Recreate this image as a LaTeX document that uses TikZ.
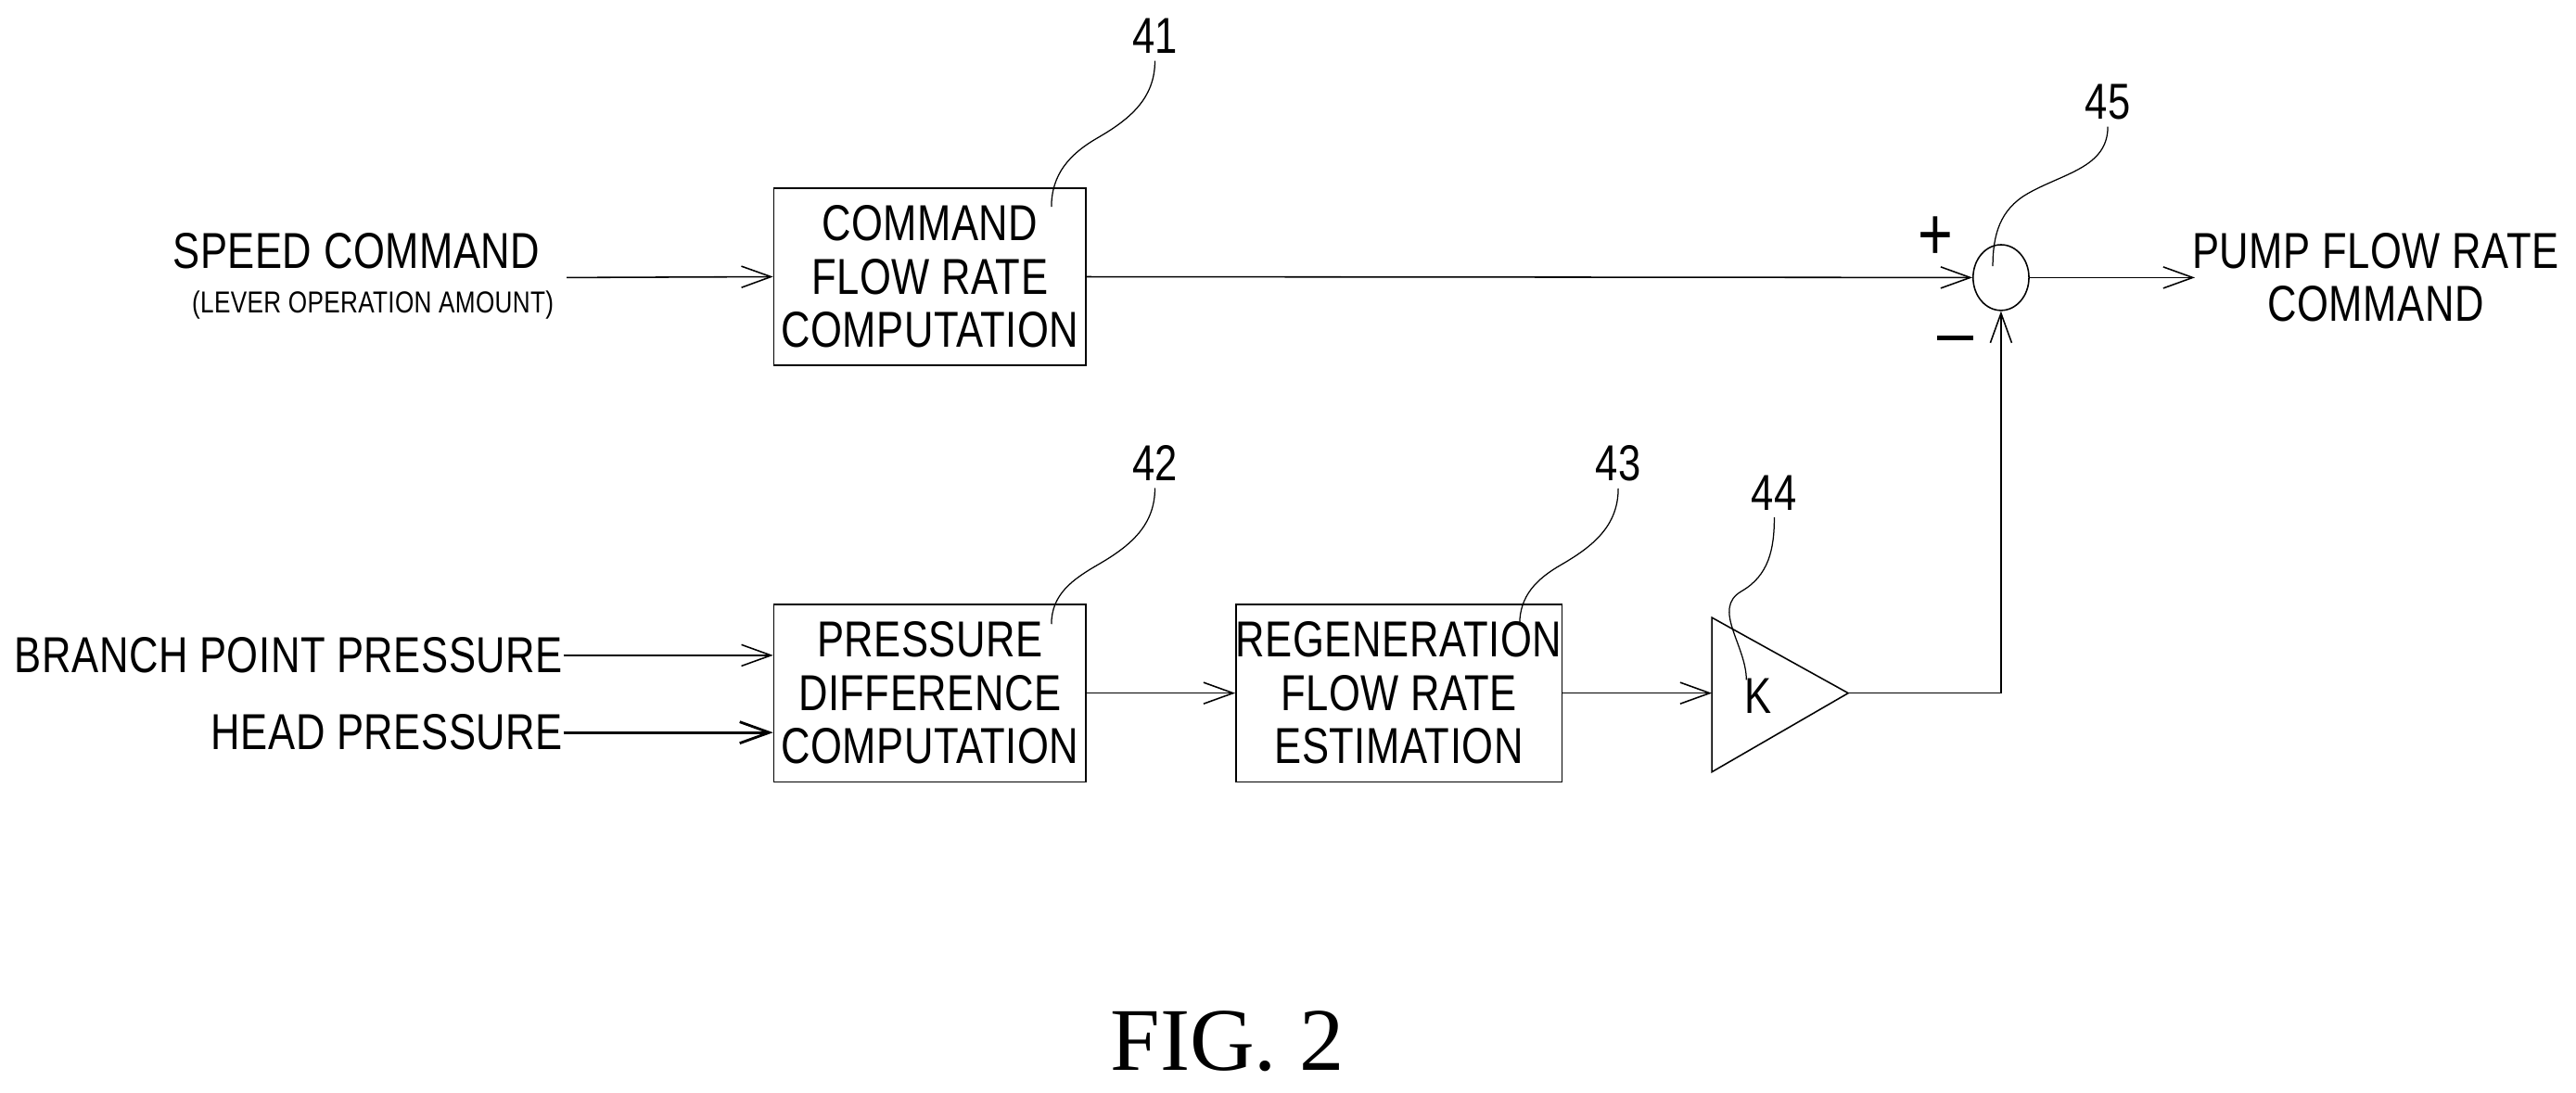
\documentclass[tikz,border=0pt]{standalone}
\usepackage{fontspec}
\setmainfont{Liberation Sans}[FakeStretch=0.8, LetterSpace=1]
\newfontfamily\figfont{Liberation Serif}
\usetikzlibrary{arrows.meta, shapes.geometric}
\tikzset{
    blk/.style={draw, minimum width=3.8cm, minimum height=2.16cm, align=center,
        font=\fontsize{17.5}{18.5}\selectfont, inner sep=0pt},
    lbl/.style={font=\fontsize{17.5}{18.5}\selectfont, inner sep=0pt, align=center},
    sig/.style={-{Straight Barb[length=3.6mm,width=2.6mm]}},
    lead/.style={thin},
}
\begin{document}
\begin{tikzpicture}[x=0.02cm, y=-0.02cm, line width=0.5pt]
    \useasboundingbox (0, 0) rectangle (1568, 665);
    % blocks
    \node[blk] (cmd) at (566, 168.5) {COMMAND\\FLOW RATE\\COMPUTATION};
    \node[blk] (pdiff) at (566, 422) {PRESSURE\\DIFFERENCE\\COMPUTATION};
    \node[blk, minimum width=3.86cm] (regen) at (851.5, 422) {REGENERATION\\FLOW RATE\\ESTIMATION};
    \draw (1042, 376) -- (1125, 422) -- (1042, 470) -- cycle;
    \coordinate (kin) at (1042, 422);
    \coordinate (kout) at (1125, 422);
    \node[lbl] (k) at (1070, 424) {K};
    \node[draw, ellipse, minimum width=0.68cm, minimum height=0.8cm, inner sep=0pt] (sum) at (1218, 169) {};
    \coordinate (corner) at (1218, 422);
    % inputs and outputs
    \node[lbl] (speed) at (217, 153) {SPEED COMMAND};
    \node[lbl, font=\fontsize{10.5}{12}\selectfont] (lever) at (227, 186) {(LEVER OPERATION AMOUNT)};
    \coordinate (speedin) at (345, 169);
    \node[lbl, anchor=east] (branch) at (343, 399) {BRANCH POINT PRESSURE};
    \node[lbl, anchor=east] (head) at (343, 446) {HEAD PRESSURE};
    \node[lbl] (pump) at (1446, 169) {PUMP FLOW RATE\\COMMAND};
    \coordinate (pumpin) at (1336, 169);
    \node[lbl, font=\fontsize{26}{26}\selectfont] (plus) at (1178, 145) {+};
    \node[fill, minimum width=0.44cm, minimum height=1.6pt, inner sep=0pt] (minus) at (1190, 206) {};
    % connectors
    \draw[sig] (speedin) -- (cmd.west);
    \draw[sig] (cmd.east) -- (sum.west);
    \draw[sig] (sum.east) -- (pumpin);
    \draw[sig] (branch.east) -- (pdiff.west |- branch.east);
    \draw[sig, line width=0.9pt] (head.east) -- (pdiff.west |- head.east);
    \draw[sig] (pdiff.east) -- (regen.west);
    \draw[sig] (regen.east) -- (kin);
    \draw[sig] (kout) -- (corner) -- (sum.south);
    % reference numerals
    \node[lbl] (n41) at (703, 22) {41};
    \node[lbl] (n42) at (703, 282) {42};
    \node[lbl] (n43) at (985, 282) {43};
    \node[lbl] (n44) at (1080, 300) {44};
    \node[lbl] (n45) at (1283, 62) {45};
    \draw[lead] (n41.south) ++(0, 4) to[out=-90, in=30] (668, 84) to[out=210, in=90] (640, 126);
    \draw[lead] (n42.south) ++(0, 4) to[out=-90, in=30] (668, 344) to[out=210, in=90] (640, 380);
    \draw[lead] (n43.south) ++(0, 4) to[out=-90, in=30] (950, 344) to[out=210, in=90] (925, 380);
    \draw[lead] (n44.south) ++(0, 4) to[out=-90, in=30] (1060, 360) to[out=210, in=90] (1063, 414);
    \draw[lead] (n45.south) ++(0, 4) to[out=-90, in=30] (1234, 118) to[out=210, in=90] (1213, 162);
    \node[font=\figfont\fontsize{31}{32}\selectfont] (fig) at (747, 634) {FIG. 2};
\end{tikzpicture}
\end{document}
